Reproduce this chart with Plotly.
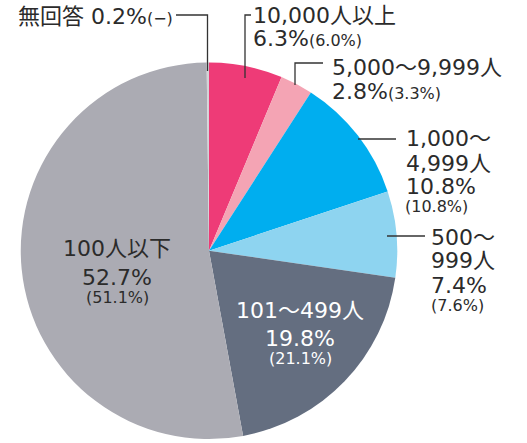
import plotly.graph_objects as go

# ---- data ----
categories = ["10,000人以上", "5,000〜9,999人", "1,000〜4,999人", "500〜999人",
              "101〜499人", "100人以下", "無回答"]
values = [6.3, 2.8, 10.8, 7.4, 19.8, 52.7, 0.2]
prev_values = ["6.0%", "3.3%", "10.8%", "7.6%", "21.1%", "51.1%", "−"]

colors = ["#EE3B77", "#F4A4B4", "#00AEEF", "#8ED4F0", "#646E80", "#ABABB3", "#D3D3D7"]

W, H = 527, 443
FONT = "DejaVu Sans, Noto Sans CJK JP, sans-serif"
TXT = "#2B2B2B"
BIG, SMALL = 22, 16


def px(x):
    return x / W


def py(y):
    return 1 - y / H


fig = go.Figure(go.Pie(
    labels=categories,
    values=values,
    sort=False,
    direction="clockwise",
    rotation=0,
    marker=dict(colors=colors, line=dict(width=0)),
    textinfo="none",
    hoverinfo="skip",
    domain=dict(x=[px(20), px(398)], y=[py(439), py(62.5)]),
    showlegend=False,
))

def small(s):
    return f"<span style='font-size:{SMALL}px'>{s}</span>"

def pct(i):
    return f"{values[i]:.1f}%"

def prev(i):
    return f"({prev_values[i]})"

# text lines: (text, x, y, xanchor, size, color)
lines = [
    (f"無回答 {pct(6)}" + small(prev(6)), 174, 16, "right", BIG, TXT),
    ("10,000人以上", 252, 15, "left", BIG, TXT),
    (pct(0) + small(prev(0)), 252, 38, "left", BIG, TXT),
    (categories[1], 331, 68, "left", BIG, TXT),
    (pct(1) + small(prev(1)), 331, 91, "left", BIG, TXT),
    ("1,000〜", 405, 138, "left", BIG, TXT),
    ("4,999人", 405, 163, "left", BIG, TXT),
    (pct(2), 405, 187, "left", BIG, TXT),
    (prev(2), 404, 207, "left", SMALL, TXT),
    ("500〜", 430, 237, "left", BIG, TXT),
    ("999人", 430, 260, "left", BIG, TXT),
    (pct(3), 430, 285, "left", BIG, TXT),
    (prev(3), 430, 305, "left", SMALL, TXT),
    (categories[4], 300, 310, "center", BIG, "white"),
    (pct(4), 300, 338, "center", BIG, "white"),
    (prev(4), 300, 358, "center", SMALL, "white"),
    (categories[5], 117, 249, "center", BIG, TXT),
    (pct(5), 117, 277, "center", BIG, TXT),
    (prev(5), 117, 297, "center", SMALL, TXT),
]

annotations = []
for text, x, y, xa, size, col in lines:
    annotations.append(dict(
        text=text, x=px(x), y=py(y), xref="paper", yref="paper",
        xanchor=xa, yanchor="middle", showarrow=False,
        font=dict(family=FONT, size=size, color=col),
        borderpad=0,
    ))

# leader lines (pixel paths)
leaders = [
    [(176, 15), (207.5, 15), (207.5, 71)],
    [(251, 15), (245, 15), (245, 78)],
    [(323, 63), (295, 63), (295, 85)],
    [(358, 139), (396, 139)],
    [(387, 236), (425, 236)],
]
shapes = []
for pts in leaders:
    path = "M " + " L ".join(f"{px(x)},{py(y)}" for x, y in pts)
    shapes.append(dict(type="path", path=path, xref="paper", yref="paper",
                       line=dict(color="#333333", width=1.3)))

fig.update_layout(
    width=W, height=H,
    margin=dict(l=0, r=0, t=0, b=0),
    paper_bgcolor="white", plot_bgcolor="white",
    annotations=annotations,
    shapes=shapes,
)

fig.write_html(
    "out.html",
    config={"displayModeBar": False},
    post_script="document.body.style.margin='0';document.body.style.padding='0';"
                "document.body.style.overflow='hidden';",
)
